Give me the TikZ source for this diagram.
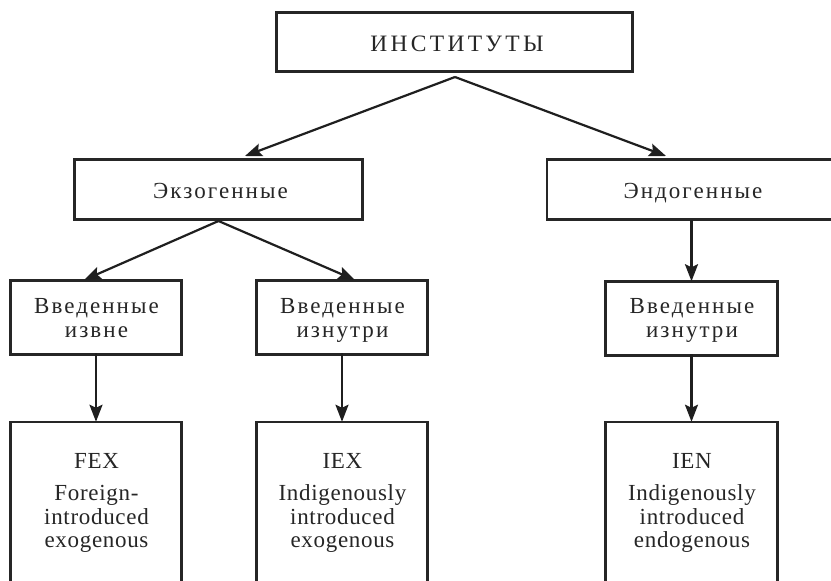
\documentclass[tikz,border=0pt]{standalone}
\usepackage{fontspec}
\setmainfont[LetterSpace=3]{Liberation Serif}
\newfontfamily\cyrfont[LetterSpace=9]{Liberation Serif}
\newfontfamily\cyrwide[LetterSpace=14]{Liberation Serif}
\usetikzlibrary{arrows.meta}
\begin{document}
\begin{tikzpicture}[x=1pt,y=-1pt,
  box/.style={draw=black!85, line width=2.5pt, rectangle, inner sep=0pt},
  lbl/.style={inner sep=0pt, anchor=base, text=black!85, font=\fontsize{23}{24}\selectfont},
  ru/.style={lbl, font=\fontsize{23}{24}\cyrfont},
  arr/.style={draw=black!88, line width=2.2pt, -{Stealth[length=17pt,width=13pt,inset=3pt]}},
]
\useasboundingbox[fill=white] (0,0) rectangle (831,581);
% boxes
\node[box, minimum width=356pt, minimum height=59pt] (top) at (454.5,42) {};
\node[box, minimum width=288pt, minimum height=60pt] (exo) at (218.5,189.5) {};
\node[box, minimum width=290pt, minimum height=60pt] (endo) at (692,189.5) {};
\node[box, minimum width=171pt, minimum height=74pt] (vl) at (96,317.5) {};
\node[box, minimum width=171pt, minimum height=74pt] (vm) at (342,317.5) {};
\node[box, minimum width=172pt, minimum height=74pt] (vr) at (691.5,318.5) {};
\node[box, minimum width=171pt, minimum height=170pt] (bl) at (96,507) {};
\node[box, minimum width=171pt, minimum height=170pt] (bm) at (342,507) {};
\node[box, minimum width=172pt, minimum height=170pt] (br) at (691.5,507) {};
% labels
\node[lbl, font=\fontsize{23.5}{24}\cyrwide] (t0) at (457,51) {ИНСТИТУТЫ};
\node[ru] (t1) at (220.5,198) {Экзогенные};
\node[ru] (t2) at (693,198) {Эндогенные};
\node[ru] (t3a) at (96.5,313) {Введенные};
\node[ru] (t3b) at (96.5,337) {извне};
\node[ru] (t4a) at (342.5,313) {Введенные};
\node[ru] (t4b) at (342.5,337) {изнутри};
\node[ru] (t5a) at (692,313) {Введенные};
\node[ru] (t5b) at (692,337) {изнутри};
\node[lbl] (f1) at (96.5,468) {FEX};
\node[lbl] (f2) at (96.5,500) {Foreign-};
\node[lbl] (f3) at (96.5,524) {introduced};
\node[lbl] (f4) at (96.5,547) {exogenous};
\node[lbl] (g1) at (342.5,468) {IEX};
\node[lbl] (g2) at (342.5,500) {Indigenously};
\node[lbl] (g3) at (342.5,524) {introduced};
\node[lbl] (g4) at (342.5,547) {exogenous};
\node[lbl] (h1) at (692,468) {IEN};
\node[lbl] (h2) at (692,500) {Indigenously};
\node[lbl] (h3) at (692,524) {introduced};
\node[lbl] (h4) at (692,547) {endogenous};
% connectors
\coordinate (apex) at (455,77);
\coordinate (exoapex) at (218.5,221);
\coordinate (tipexo) at (245,156);
\coordinate (tipendo) at (666,156);
\coordinate (tipvl) at (84,280);
\coordinate (tipvm) at (355,280);
\draw[arr] (apex) -- (tipexo);
\draw[arr] (apex) -- (tipendo);
\draw[arr] (exoapex) -- (tipvl);
\draw[arr] (exoapex) -- (tipvm);
\draw[arr] ([yshift=2.5pt]vl.south) -- ([yshift=-1pt]bl.north);
\draw[arr] ([yshift=2.5pt]vm.south) -- ([yshift=-1pt]bm.north);
\draw[arr] ([yshift=1pt]endo.south -| vr.north) -- ([yshift=-1pt]vr.north);
\draw[arr] ([yshift=2.5pt]vr.south) -- ([yshift=-1pt]br.north);
\end{tikzpicture}
\end{document}
